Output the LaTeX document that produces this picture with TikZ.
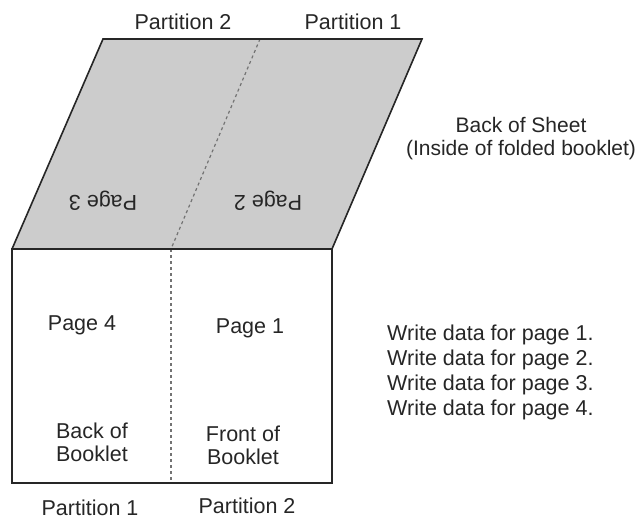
\documentclass[tikz,border=0pt]{standalone}
\usepackage{fontspec}
\setmainfont{Liberation Sans}
\begin{document}
\begin{tikzpicture}[x=1pt,y=-1pt,
  lbl/.style={font=\fontsize{21.5}{23}\selectfont, inner sep=0pt, align=center, text=black!85},
  edge/.style={line width=1.6pt, black!85, line join=miter},
  fold/.style={line width=1.2pt, black!55, dash pattern=on 3pt off 3pt},
  sheet/.style={fill=black!20}]
\useasboundingbox (0,0) rectangle (642,520);
\coordinate (TL) at (103,39);
\coordinate (TR) at (422,39);
\coordinate (BL) at (12,249);
\coordinate (BR) at (332,249);
\coordinate (RBR) at (332,483);
\coordinate (FT) at (260,39);
\coordinate (FB) at (171,249);
\coordinate (FR) at (171,483);
\fill[sheet] (TL) -- (TR) -- (BR) -- (BL) -- cycle;
\draw[fold] (FT) -- (FB);
\draw[fold] (FB) -- (FR);
\draw[edge] (BL) -- (TL) -- (TR) -- (BR);
\draw[edge] (BL) rectangle (RBR);
\node[lbl] (p2t) at (183,22) {Partition 2};
\node[lbl] (p1t) at (353,22) {Partition 1};
\node[lbl, rotate=180] (pg3) at (103,201) {Page 3};
\node[lbl, rotate=180] (pg2) at (268,201) {Page 2};
\node[lbl] (pg4) at (82,325) {Page 4};
\node[lbl] (pg1) at (250,328) {Page 1};
\node[lbl] (back) at (92,442) {Back of\\Booklet};
\node[lbl] (front) at (243,445) {Front of\\Booklet};
\node[lbl] (p1b) at (90,508) {Partition 1};
\node[lbl] (p2b) at (247,506) {Partition 2};
\node[lbl, font=\fontsize{21}{23}\selectfont] (sheet) at (521,139) {Back of Sheet\\(Inside of folded booklet)};
\node[lbl, align=left, anchor=west, font=\fontsize{21.5}{25}\selectfont] (write) at (387,372) {Write data for page 1.\\Write data for page 2.\\Write data for page 3.\\Write data for page 4.};
\end{tikzpicture}
\end{document}
